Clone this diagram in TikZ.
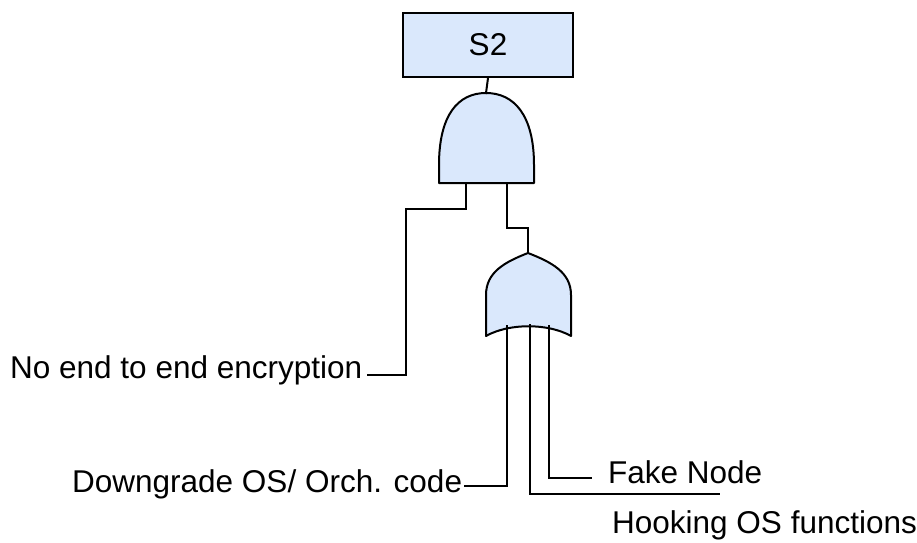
\documentclass[tikz,border=0pt]{standalone}
\usepackage{fontspec}
\setmainfont{Liberation Sans}
\definecolor{gatefill}{HTML}{DAE8FC}
\tikzset{
  wire/.style={line width=2pt, line cap=rect},
  gateshape/.style={draw, line width=2pt, fill=gatefill, line join=round},
  lbl/.style={inner sep=0pt, anchor=base west, font=\fontsize{31.5}{38}\selectfont},
  topbox/.style={draw, line width=2pt, fill=gatefill, minimum width=170pt, minimum height=64pt, inner sep=0pt, font=\fontsize{31.5}{38}\selectfont}
}
\begin{document}
\begin{tikzpicture}[x=1pt,y=-1pt]
\useasboundingbox (0,0) rectangle (917,542);
% top event
\node[topbox] (s2) at (488,45) {S2};
% AND gate
\draw[gateshape] (439,183) -- (439,165) .. controls (439,115) and (458,93) .. (486,93)
  .. controls (514,93) and (534,115) .. (534,165) -- (534,183) -- cycle;
\coordinate (andtop) at (486,93);
\coordinate (andl) at (466,183);
\coordinate (andr) at (507,183);
% OR gate
\draw[gateshape] (486,336) -- (486,295) .. controls (486,272) and (505,262) .. (528,253)
  .. controls (551,262) and (571,272) .. (571,295) -- (571,336)
  .. controls (548,323) and (509,323) .. cycle;
\coordinate (ortop) at (528,253);
\coordinate (orl) at (507,326);
\coordinate (orm) at (530,325);
\coordinate (orr) at (549,326);
% labels
\node[lbl] (noenc) at (10,378) {No end to end encryption};
\node[lbl] (down) at (72,492) {Downgrade OS/ Orch. code};
\node[lbl] (fake) at (608,483) {Fake Node};
\node[lbl] (hook) at (612,533) {Hooking OS functions};
\coordinate (noencend) at (368,375);
\coordinate (downend) at (465,486);
\coordinate (fakeend) at (591,478);
\coordinate (hookend) at (719,494);
% connectors
\draw[wire] (s2.south) -- (andtop);
\draw[wire] (andl) |- (406,209) |- (noencend);
\draw[wire] (andr) |- (528,228) -- (ortop);
\draw[wire] (orl) |- (downend);
\draw[wire] (orm) |- (hookend);
\draw[wire] (orr) |- (fakeend);
\end{tikzpicture}
\end{document}
